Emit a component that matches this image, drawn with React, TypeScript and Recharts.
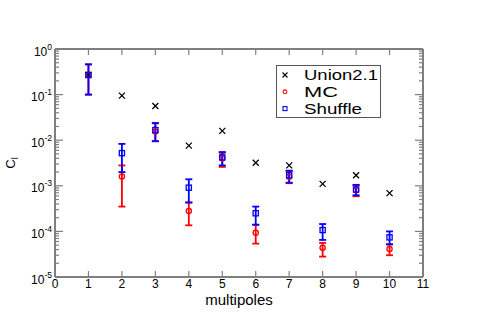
import React from 'react';
import { ScatterChart, Scatter, XAxis, YAxis, ErrorBar, Legend } from 'recharts';

const multipoles = [1, 2, 3, 4, 5, 6, 7, 8, 9, 10];
const union21 = [0.27, 0.095, 0.056, 0.0076, 0.016, 0.0032, 0.0028, 0.0011, 0.0017, 0.00069];
const mc = [0.27, 0.0016, 0.0155, 0.00028, 0.004, 0.000094, 0.00158, 0.000044, 0.0008, 0.000041];
const mcLow = [0.1, 0.00035, 0.0095, 0.000136, 0.0026, 0.000054, 0.00114, 0.000028, 0.00059, 0.00003];
const mcHigh = [0.46, 0.0028, 0.024, 0.00043, 0.0053, 0.00014, 0.0021, 0.000056, 0.00102, 0.000052];
const shuffle = [0.27, 0.0052, 0.0167, 0.00091, 0.0042, 0.00025, 0.0017, 0.000107, 0.00083, 0.000074];
const shuffleLow = [0.1, 0.002, 0.0095, 0.00043, 0.0028, 0.00014, 0.00117, 0.000065, 0.00062, 0.000052];
const shuffleHigh = [0.46, 0.0083, 0.0235, 0.00139, 0.0055, 0.00035, 0.00215, 0.000145, 0.00105, 0.0001];

const xTicks = [0, 1, 2, 3, 4, 5, 6, 7, 8, 9, 10, 11];
const yExponents = [-5, -4, -3, -2, -1, 0];
const yMantissas = [1, 2, 3, 4, 5, 6, 7, 8, 9];

const seriesNames = ['Union2.1', 'MC', 'Shuffle'];
const seriesColors = ['#000000', '#ff0000', '#0000ff'];

const yTicks: number[] = [];
yExponents.forEach((e) => {
  if (e === 0) {
    yTicks.push(1);
  } else {
    yMantissas.forEach((m) => yTicks.push(m * Math.pow(10, e)));
  }
});

const unionData = multipoles.map((x, i) => ({ x, y: union21[i] }));
const mcData = multipoles.map((x, i) => ({ x, y: mc[i], err: [mc[i] - mcLow[i], mcHigh[i] - mc[i]] }));
const shuffleData = multipoles.map((x, i) => ({
  x,
  y: shuffle[i],
  err: [shuffle[i] - shuffleLow[i], shuffleHigh[i] - shuffle[i]],
}));

const AXIS = '#7f7f7f';
const FONT = '"Liberation Sans", Arial, sans-serif';

const isMajor = (v: number) => {
  const e = Math.floor(Math.log10(v) + 1e-9);
  const m = v / Math.pow(10, e);
  return Math.abs(m - 1) < 1e-6;
};

const LeftTick = (props: any) => {
  const { x, y, payload } = props;
  const v = payload.value;
  const major = isMajor(v);
  const exp = Math.round(Math.log10(v));
  return (
    <g>
      <line x1={x} y1={y} x2={x + (major ? 8 : 4)} y2={y} stroke={AXIS} strokeWidth={1.2} />
      {major && (
        <text x={x - 3} y={y + 6.5} textAnchor="end" fontFamily={FONT} fontSize={12} fill="#000">
          10
          <tspan fontSize={8.5} dy={-6}>
            {String(exp)}
          </tspan>
        </text>
      )}
    </g>
  );
};

const RightTick = (props: any) => {
  const { x, y, payload } = props;
  const major = isMajor(payload.value);
  return <line x1={x} y1={y} x2={x - (major ? 8 : 4)} y2={y} stroke={AXIS} strokeWidth={1.2} />;
};

const BottomTick = (props: any) => {
  const { x, y, payload } = props;
  return (
    <g>
      <line x1={x} y1={y} x2={x} y2={y - 6} stroke={AXIS} strokeWidth={1.2} />
      <text x={x} y={y + 11} textAnchor="middle" fontFamily={FONT} fontSize={12} fill="#000">
        {String(payload.value)}
      </text>
    </g>
  );
};

const TopTick = (props: any) => {
  const { x, y } = props;
  return <line x1={x} y1={y} x2={x} y2={y + 6} stroke={AXIS} strokeWidth={1.2} />;
};

const CrossShape = (props: any) => {
  const { cx, cy } = props;
  const s = 3;
  return (
    <path
      d={`M${cx - s},${cy - s}L${cx + s},${cy + s}M${cx - s},${cy + s}L${cx + s},${cy - s}`}
      stroke="#000"
      strokeWidth={1.3}
      fill="none"
    />
  );
};

const CircleShape = (props: any) => {
  const { cx, cy } = props;
  return <circle cx={cx} cy={cy} r={2.6} stroke="#ff0000" strokeWidth={1.3} fill="none" />;
};

const SquareShape = (props: any) => {
  const { cx, cy } = props;
  return <rect x={cx - 2.6} y={cy - 2.6} width={5.2} height={5.2} stroke="#0000ff" strokeWidth={1.3} fill="none" />;
};

const LegendMarker = ({ i }: { i: number }) => {
  const cx = 9;
  const cy = 10 + i * 16.8;
  if (i === 0) {
    return (
      <path
        d={`M${cx - 2.5},${cy - 2.5}L${cx + 2.5},${cy + 2.5}M${cx - 2.5},${cy + 2.5}L${cx + 2.5},${cy - 2.5}`}
        stroke="#000"
        strokeWidth={1.1}
      />
    );
  }
  if (i === 1) return <circle cx={cx} cy={cy} r={1.9} stroke="#ff0000" strokeWidth={1.1} fill="none" />;
  return <rect x={cx - 2} y={cy - 2} width={4} height={4} stroke="#0000ff" strokeWidth={1.1} fill="none" />;
};

const LegendBox = () => {
  const textWidths = [74, 34, 58];
  return (
    <svg width={106} height={54} style={{ display: 'block' }}>
      <rect x={0.5} y={0.5} width={104} height={52} fill="#fff" stroke="#555" strokeWidth={1} />
      {seriesNames.map((name, i) => (
        <g key={name}>
          <LegendMarker i={i} />
          <text
            x={28}
            y={15 + i * 16.8}
            fontFamily={FONT}
            fontSize={14}
            fill="#000"
            textLength={textWidths[i]}
            lengthAdjust="spacingAndGlyphs"
          >
            {name}
          </text>
        </g>
      ))}
    </svg>
  );
};

const YLabel = (props: any) => {
  const vb = props.viewBox || { x: 0, y: 49, width: 55, height: 228 };
  const x = vb.x + vb.width - 40;
  const y = vb.y + vb.height / 2;
  return (
    <text x={x} y={y} transform={`rotate(-90, ${x}, ${y})`} textAnchor="middle" fontFamily={FONT} fontSize={13} fill="#000">
      C
      <tspan fontSize={9} dy={3}>
        l
      </tspan>
    </text>
  );
};

export default function App() {
  return (
    <div style={{ position: 'absolute', left: 0, top: 0, width: 477, height: 327, background: '#fff' }}>
      <ScatterChart width={477} height={327} margin={{ top: 0, right: 0, bottom: 0, left: 0 }}>
        <XAxis
          xAxisId="b"
          type="number"
          dataKey="x"
          domain={[0, 11]}
          ticks={xTicks}
          interval={0}
          allowDataOverflow
          height={50}
          tickSize={0}
          tickMargin={0}
          axisLine={{ stroke: AXIS, strokeWidth: 2 }}
          tick={(p: any) => <BottomTick {...p} />}
          label={{ value: 'multipoles', position: 'insideTop', offset: 17, fontFamily: FONT, fontSize: 15, fill: '#000' }}
        />
        <XAxis
          xAxisId="t"
          orientation="top"
          type="number"
          dataKey="x"
          domain={[0, 11]}
          ticks={xTicks}
          interval={0}
          allowDataOverflow
          height={49}
          tickSize={0}
          tickMargin={0}
          axisLine={{ stroke: AXIS, strokeWidth: 2 }}
          tick={(p: any) => <TopTick {...p} />}
        />
        <YAxis
          yAxisId="l"
          type="number"
          dataKey="y"
          scale="log"
          domain={[1e-5, 1]}
          ticks={yTicks}
          interval={0}
          allowDataOverflow
          width={55}
          tickSize={0}
          tickMargin={0}
          axisLine={{ stroke: AXIS, strokeWidth: 2 }}
          tick={(p: any) => <LeftTick {...p} />}
          label={{ content: (p: any) => <YLabel {...p} /> }}
        />
        <YAxis
          yAxisId="r"
          orientation="right"
          type="number"
          dataKey="y"
          scale="log"
          domain={[1e-5, 1]}
          ticks={yTicks}
          interval={0}
          allowDataOverflow
          width={54}
          tickSize={0}
          tickMargin={0}
          axisLine={{ stroke: AXIS, strokeWidth: 2 }}
          tick={(p: any) => <RightTick {...p} />}
        />
        <Scatter
          name={seriesNames[0]}
          data={unionData}
          xAxisId="b"
          yAxisId="l"
          fill={seriesColors[0]}
          shape={(p: any) => <CrossShape {...p} />}
          isAnimationActive={false}
        />
        <Scatter
          name={seriesNames[1]}
          data={mcData}
          xAxisId="b"
          yAxisId="l"
          fill={seriesColors[1]}
          shape={(p: any) => <CircleShape {...p} />}
          isAnimationActive={false}
        >
          <ErrorBar dataKey="err" direction="y" width={3.5} stroke="#ff0000" strokeWidth={1.8} isAnimationActive={false} />
        </Scatter>
        <Scatter
          name={seriesNames[2]}
          data={shuffleData}
          xAxisId="b"
          yAxisId="l"
          fill={seriesColors[2]}
          shape={(p: any) => <SquareShape {...p} />}
          isAnimationActive={false}
        >
          <ErrorBar dataKey="err" direction="y" width={3.5} stroke="#0000ff" strokeWidth={1.8} isAnimationActive={false} />
        </Scatter>
        <Legend
          layout="vertical"
          align="center"
          verticalAlign="middle"
          content={() => <LegendBox />}
          wrapperStyle={{ position: 'absolute', left: 276, top: 65, width: 106, height: 54 }}
        />
      </ScatterChart>
    </div>
  );
}
